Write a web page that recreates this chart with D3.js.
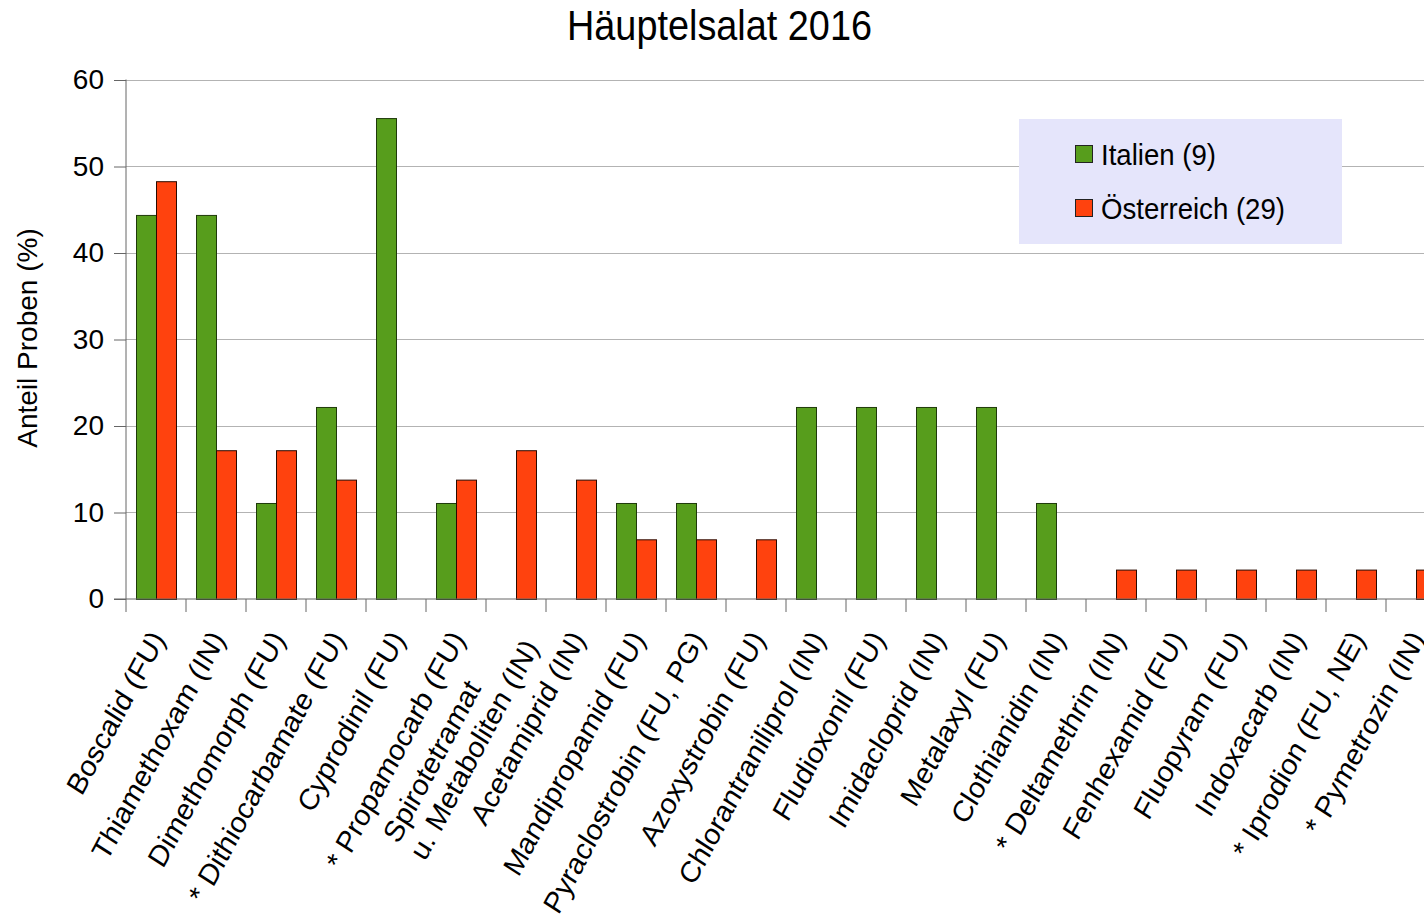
<!DOCTYPE html>
<html><head><meta charset="utf-8">
<script src="https://cdn.jsdelivr.net/npm/d3@7"></script>
<style>body{margin:0;background:#fff}svg{display:block;font-family:"Liberation Sans",Arial,sans-serif}</style>
</head><body><svg id="c" width="1424" height="917"></svg>
<script>
const categories = ["Boscalid (FU)","Thiamethoxam (IN)","Dimethomorph (FU)","* Dithiocarbamate (FU)","Cyprodinil (FU)","* Propamocarb (FU)","Spirotetramat\nu. Metaboliten (IN)","Acetamiprid (IN)","Mandipropamid (FU)","Pyraclostrobin (FU, PG)","Azoxystrobin (FU)","Chlorantraniliprol (IN)","Fludioxonil (FU)","Imidacloprid (IN)","Metalaxyl (FU)","Clothianidin (IN)","* Deltamethrin (IN)","Fenhexamid (FU)","Fluopyram (FU)","Indoxacarb (IN)","* Iprodion (FU, NE)","* Pymetrozin (IN)"];
const italien = [44.4,44.4,11.1,22.2,55.6,11.1,0,0,11.1,11.1,0,22.2,22.2,22.2,22.2,11.1,0,0,0,0,0,0];
const oesterreich = [48.3,17.2,17.2,13.8,0,13.8,17.2,13.8,6.9,6.9,6.9,0,0,0,0,0,3.4,3.4,3.4,3.4,3.4,3.4];
const seriesNames = ["Italien (9)","Österreich (29)"];
const yTicks = [0,10,20,30,40,50,60];

const svg = d3.select("#c");
const mLeft = 126, mTop = 80, mBottom = 599, step = 60;
const x = d3.scaleBand().domain(categories).range([mLeft, mLeft + step*categories.length]).paddingInner(0).paddingOuter(0);
const xs = d3.scaleBand().domain([0,1]).range([0, step]).paddingInner(0).paddingOuter(0.5);
const y = d3.scaleLinear().domain([0,60]).range([mBottom, mTop]);
const colors = ["#579d1c","#ff420e"];
const strokes = ["#1f3a0a","#2a0a00"];

// gridlines
svg.append("g").selectAll("line").data(yTicks.filter(d=>d>0)).join("line")
  .attr("x1", mLeft).attr("x2", 1424).attr("y1", d=>y(d)).attr("y2", d=>y(d))
  .attr("stroke","#b3b3b3").attr("stroke-width",1).attr("shape-rendering","crispEdges");

// bars
const data = [italien, oesterreich];
data.forEach((vals, si) => {
  svg.append("g").selectAll("rect").data(categories.map((c,i)=>({c, v: vals[i]})).filter(d=>d.v>0)).join("rect")
    .attr("x", d => x(d.c) + xs(si) + 0.5)
    .attr("y", d => y(d.v) + 0.5)
    .attr("width", xs.bandwidth())
    .attr("height", d => y(0) - y(d.v))
    .attr("fill", colors[si]).attr("stroke", strokes[si]).attr("stroke-width", 1);
});

// y axis
const ya = svg.append("g").attr("transform", `translate(${mLeft},0)`)
  .call(d3.axisLeft(y).tickValues(yTicks).tickSize(12).tickPadding(10));
ya.select(".domain").attr("stroke","#666").attr("d", `M-12,${y(0)}H0V${mTop-0.5}`);
ya.selectAll(".tick line").attr("stroke","#666");
ya.selectAll("text").attr("font-size","28px").attr("fill","#000").attr("font-family","Liberation Sans, Arial, sans-serif");

// x axis baseline & ticks
const xa = svg.append("g").attr("transform", `translate(0,${mBottom})`);
xa.append("line").attr("x1", mLeft).attr("x2", 1424).attr("y1",0).attr("y2",0).attr("stroke","#666");
const bounds = categories.map(c => x(c)).concat([x(categories[categories.length-1]) + step]);
xa.selectAll("line.t").data(bounds).join("line").attr("class","t")
  .attr("x1", d=>d).attr("x2", d=>d).attr("y1",0).attr("y2",13).attr("stroke","#666");

// x labels
const lab = svg.append("g").selectAll("g").data(categories).join("g")
  .attr("transform", d => `translate(${x(d) + step/2 + 10},${mBottom + 40}) scale(1,1.1) rotate(-59.6)`);
lab.each(function(d){
  const parts = d.split("\n");
  const g = d3.select(this);
  const n = parts.length;
  const texts = parts.map((p,i)=> g.append("text").attr("font-size","27.5px").attr("fill","#000")
      .attr("y", (i - (n-1)/2) * 31).text(p));
  if (n === 1) { texts[0].attr("text-anchor","end"); }
  else {
    const L = d3.max(texts, t => t.node().getComputedTextLength());
    texts.forEach(t => t.attr("x", -L).attr("text-anchor","start"));
  }
});

// title
svg.append("text").attr("x", 719.5).attr("y", 40).attr("text-anchor","middle").attr("font-size","42px").attr("fill","#000")
  .attr("textLength", 305).attr("lengthAdjust","spacingAndGlyphs").text("Häuptelsalat 2016");
// y title
svg.append("text").attr("transform", `translate(37,338) rotate(-90)`).attr("text-anchor","middle").attr("font-size","28px").attr("fill","#000").text("Anteil Proben (%)");

// legend
const legendW = [115, 184];
const lg = svg.append("g");
lg.append("rect").attr("x",1019).attr("y",119).attr("width",323).attr("height",125).attr("fill","#e5e5fb");
seriesNames.forEach((n,i)=>{
  lg.append("rect").attr("x",1075.5).attr("y",145.5 + i*54).attr("width",17).attr("height",17).attr("fill",colors[i]).attr("stroke","#222");
  lg.append("text").attr("x",1101).attr("y",165 + i*54).attr("font-size","30px").attr("fill","#000")
    .attr("textLength", legendW[i]).attr("lengthAdjust","spacingAndGlyphs").text(n);
});
</script></body></html>
